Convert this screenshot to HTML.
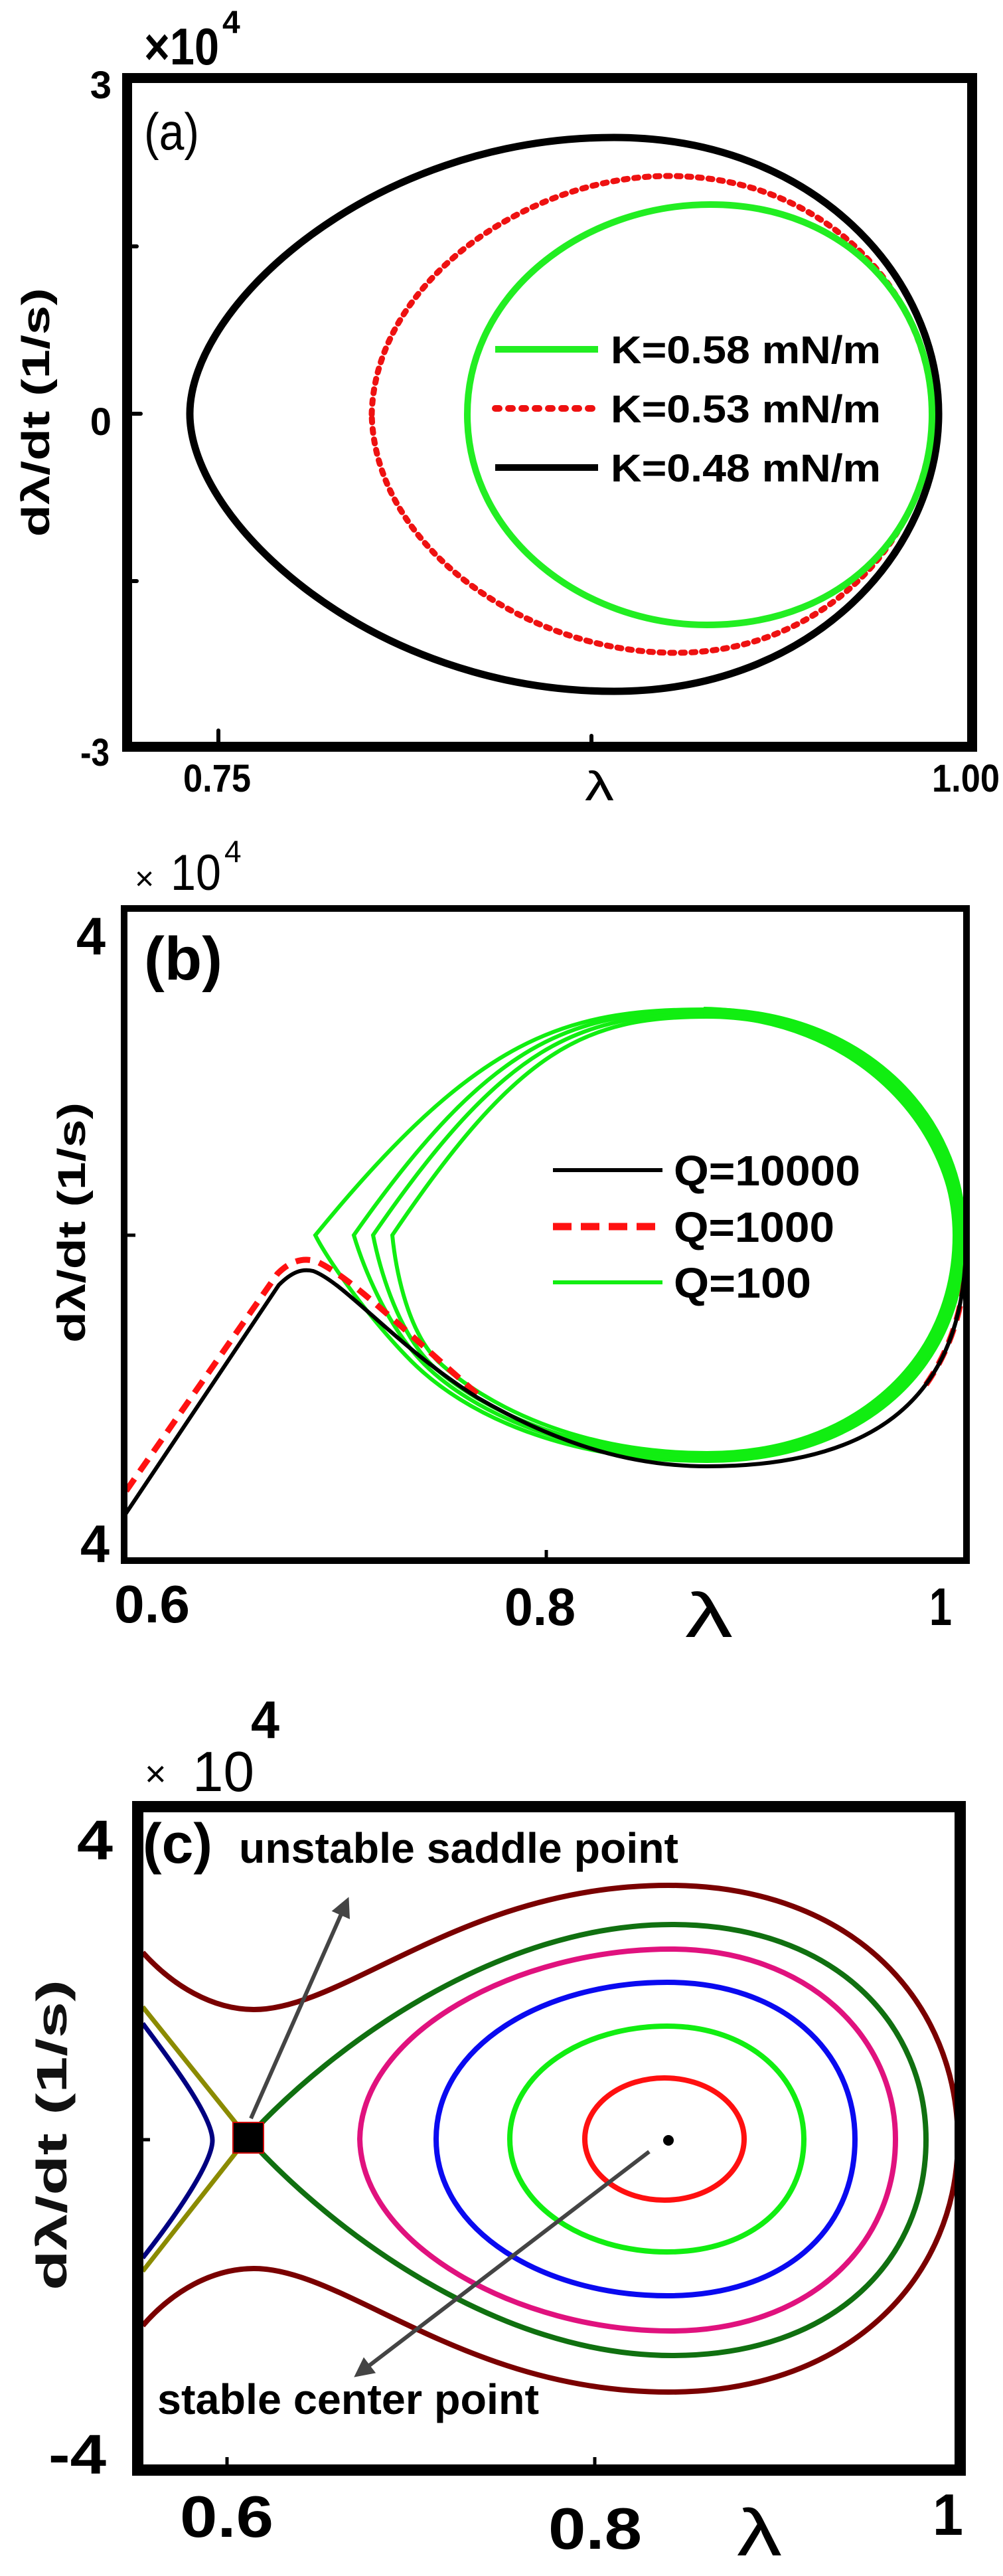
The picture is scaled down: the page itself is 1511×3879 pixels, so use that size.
<!DOCTYPE html>
<html><head><meta charset="utf-8"><style>html,body{margin:0;padding:0;background:#fff}svg{display:block}</style></head>
<body>
<svg width="1511" height="3879" viewBox="0 0 1511 3879" xmlns="http://www.w3.org/2000/svg" font-family="Liberation Sans, Arial, sans-serif">
<defs>
<clipPath id="ca"><rect x="199" y="125" width="1258" height="992"/></clipPath>
<clipPath id="cb"><rect x="192" y="1373" width="1259" height="972"/></clipPath>
<clipPath id="cc"><rect x="216" y="2729" width="1222" height="982"/></clipPath>
<marker id="ah" viewBox="0 0 10 10" refX="8" refY="5" markerWidth="5" markerHeight="5" orient="auto"><path d="M0,0 L10,5 L0,10 Z" fill="#444"/></marker>
</defs>
<rect width="1511" height="3879" fill="#fff"/>

<!-- Panel (a) -->
<g clip-path="url(#ca)" fill="none">
<path d="M286,623 C286,460 560,207 925,207 C1230,207 1414,420 1414,623 C1414,826 1230,1041 925,1041 C560,1041 286,786 286,623 Z" stroke="#000" stroke-width="11"/>
<path d="M560,624 C565,420 800,265 1007,265 C1250,265 1404,450 1404,624 C1404,800 1250,983 1017,983 C800,983 565,830 560,624 Z" stroke="#ee1111" stroke-width="9" stroke-dasharray="6 10" stroke-linecap="round"/>
<path d="M704,624 C704,440 880,308 1070,308 C1280,308 1404,460 1404,624 C1404,790 1280,941 1065,941 C880,941 704,810 704,624 Z" stroke="#22ee22" stroke-width="10"/>
<line x1="746" y1="526" x2="901" y2="526" stroke="#22ee22" stroke-width="10"/>
<line x1="746" y1="615" x2="901" y2="615" stroke="#ee1111" stroke-width="10" stroke-dasharray="6 14" stroke-linecap="round"/>
<line x1="746" y1="704" x2="901" y2="704" stroke="#000" stroke-width="10"/>
</g>
<rect x="191.5" y="117.5" width="1273" height="1007" fill="none" stroke="#000" stroke-width="15"/>
<g stroke="#000" stroke-width="6" stroke-linecap="round">
<line x1="329" y1="1100" x2="329" y2="1118"/><line x1="891" y1="1108" x2="891" y2="1118"/>
<line x1="200" y1="371" x2="206" y2="371"/><line x1="200" y1="623" x2="212" y2="623"/><line x1="200" y1="875" x2="206" y2="875"/>
</g>
<g font-weight="bold" fill="#000">
<text x="217" y="97" font-size="78" textLength="113" lengthAdjust="spacingAndGlyphs">×10</text>
<text x="335" y="50" font-size="48">4</text>
<text x="168" y="148" font-size="58" text-anchor="end">3</text>
<text x="168" y="655" font-size="58" text-anchor="end">0</text>
<text x="121" y="1153" font-size="58" textLength="44" lengthAdjust="spacingAndGlyphs">-3</text>
<text x="276" y="1192" font-size="58" textLength="102" lengthAdjust="spacingAndGlyphs">0.75</text>
<text x="1404" y="1192" font-size="58" textLength="102" lengthAdjust="spacingAndGlyphs">1.00</text>
<text x="920" y="547" font-size="58" textLength="407" lengthAdjust="spacingAndGlyphs">K=0.58 mN/m</text>
<text x="920" y="636" font-size="58" textLength="407" lengthAdjust="spacingAndGlyphs">K=0.53 mN/m</text>
<text x="920" y="725" font-size="58" textLength="407" lengthAdjust="spacingAndGlyphs">K=0.48 mN/m</text>
<text transform="translate(74,621) rotate(-90)" font-size="58" text-anchor="middle" textLength="375" lengthAdjust="spacingAndGlyphs">dλ/dt (1/s)</text>
</g>
<text x="217" y="225" font-size="78" textLength="83" lengthAdjust="spacingAndGlyphs">(a)</text>
<text x="881" y="1205" font-size="62" textLength="44" lengthAdjust="spacingAndGlyphs">λ</text>

<!-- Panel (b) -->
<g clip-path="url(#cb)" fill="none">
<g stroke="#11ee11" stroke-width="6">
<path d="M475,1860 C720,1560 850,1520 1065,1520 C1300,1520 1453,1680 1453,1860 C1453,2060 1300,2200 1065,2200 C850,2200 700,2130 620,2050 C560,1990 495,1900 475,1860 Z"/>
<path d="M533,1860 C740,1565 860,1523 1065,1523 C1298,1523 1448,1684 1448,1860 C1448,2056 1297,2196 1065,2196 C860,2196 710,2125 640,2055 C580,1995 545,1900 533,1860 Z"/>
<path d="M562,1860 C760,1572 870,1527 1065,1527 C1294,1527 1443,1688 1443,1860 C1443,2052 1293,2192 1065,2192 C865,2192 720,2120 650,2055 C595,2000 570,1900 562,1860 Z"/>
<path d="M591,1860 C780,1580 880,1531 1065,1531 C1290,1531 1438,1692 1438,1860 C1438,2048 1290,2188 1065,2188 C870,2188 730,2115 660,2050 C610,2000 595,1900 591,1860 Z"/>
<path d="M1060,1524 C1290,1528 1440,1690 1445,1860 C1443,2050 1290,2194 1065,2194" stroke-width="16"/>
</g>
<path d="M190,2245 L418,1918 C438,1898 458,1893 478,1900 C530,1925 600,1995 720,2100" stroke="#ff1111" stroke-width="9" stroke-dasharray="22 14"/>
<path d="M1395,2085 C1440,2020 1455,1950 1458,1866" stroke="#ff1111" stroke-width="9" stroke-dasharray="22 14"/>
<path d="M189,2280 L420,1935 C440,1915 455,1910 472,1914 C520,1932 600,2030 720,2105 C850,2180 960,2208 1065,2208 C1300,2208 1450,2120 1455,1880" stroke="#000" stroke-width="6"/>
</g>
<rect x="187" y="1368" width="1269" height="982" fill="none" stroke="#000" stroke-width="10"/>
<g stroke="#000" stroke-width="5"><line x1="192" y1="1860" x2="204" y2="1860"/><line x1="823" y1="2334" x2="823" y2="2345"/></g>
<line x1="833" y1="1762" x2="998" y2="1762" stroke="#000" stroke-width="6"/>
<line x1="833" y1="1847" x2="998" y2="1847" stroke="#ff1111" stroke-width="11" stroke-dasharray="28 14"/>
<line x1="833" y1="1931" x2="998" y2="1931" stroke="#11ee11" stroke-width="6"/>
<text x="203" y="1340" font-size="50">×</text>
<text x="257" y="1340" font-size="76" textLength="76" lengthAdjust="spacingAndGlyphs">10</text>
<text x="338" y="1298" font-size="46">4</text>
<text x="1032" y="2465" font-size="95" textLength="72" lengthAdjust="spacingAndGlyphs">λ</text>
<g font-weight="bold" fill="#000">
<text x="115" y="1437" font-size="80" textLength="44" lengthAdjust="spacingAndGlyphs">4</text>
<text x="121" y="2352" font-size="80" textLength="44" lengthAdjust="spacingAndGlyphs">4</text>
<text x="217" y="1475" font-size="92" textLength="118" lengthAdjust="spacingAndGlyphs">(b)</text>
<text x="172" y="2443" font-size="80" textLength="114" lengthAdjust="spacingAndGlyphs">0.6</text>
<text x="760" y="2447" font-size="80" textLength="107" lengthAdjust="spacingAndGlyphs">0.8</text>
<text x="1400" y="2447" font-size="80" textLength="34" lengthAdjust="spacingAndGlyphs">1</text>
<text x="1015" y="1785" font-size="64" textLength="281" lengthAdjust="spacingAndGlyphs">Q=10000</text>
<text x="1015" y="1870" font-size="64" textLength="242" lengthAdjust="spacingAndGlyphs">Q=1000</text>
<text x="1015" y="1954" font-size="64" textLength="207" lengthAdjust="spacingAndGlyphs">Q=100</text>
<text transform="translate(128,1841) rotate(-90)" font-size="58" text-anchor="middle" textLength="362" lengthAdjust="spacingAndGlyphs">dλ/dt (1/s)</text>
</g>

<!-- Panel (c) -->
<g clip-path="url(#cc)" fill="none" stroke-width="8">
<path d="M215,2940 C260,2990 320,3026 383,3026 C520,3026 700,2839 1007,2839 C1290,2839 1443,3020 1443,3223 C1443,3420 1290,3602 1007,3602 C700,3602 520,3416 383,3416 C320,3416 260,3450 215,3502" stroke="#7a0000"/>
<path d="M373,3219 C500,3080 750,2898 1012,2898 C1260,2898 1395,3050 1395,3222 C1395,3400 1260,3547 1012,3547 C750,3547 500,3360 373,3219 Z" stroke="#107010"/>
<path d="M542,3221 C545,3060 780,2935 1010,2935 C1220,2935 1349,3070 1349,3221 C1349,3380 1220,3510 1010,3510 C780,3510 545,3380 542,3221 Z" stroke="#e0127e"/>
<path d="M657,3221 C657,3080 820,2985 1005,2985 C1180,2985 1288,3090 1288,3221 C1288,3360 1180,3457 1005,3457 C820,3457 657,3360 657,3221 Z" stroke="#0a0af0"/>
<path d="M768,3221 C768,3120 880,3051 1005,3051 C1130,3051 1211,3130 1211,3221 C1211,3320 1130,3391 1005,3391 C880,3391 768,3320 768,3221 Z" stroke="#11ee11"/>
<ellipse cx="1001" cy="3221" rx="120" ry="92" stroke="#ff1010"/>
<path d="M215,3022 L373,3219 L215,3420" stroke="#8b8b00" stroke-width="7"/>
<path d="M215,3047 C270,3120 320,3190 320,3223 C320,3255 270,3330 215,3400" stroke="#000080" stroke-width="7"/>
</g>
<rect x="351" y="3196" width="46" height="46" fill="#000" stroke="#c00" stroke-width="2"/>
<circle cx="1007" cy="3223" r="8" fill="#000"/>
<line x1="378" y1="3190" x2="523" y2="2862" stroke="#444" stroke-width="6" marker-end="url(#ah)"/>
<line x1="978" y1="3240" x2="538" y2="3576" stroke="#444" stroke-width="6" marker-end="url(#ah)"/>
<rect x="207.5" y="2720.5" width="1239" height="999" fill="none" stroke="#000" stroke-width="17"/>
<g stroke="#000" stroke-width="5"><line x1="342" y1="3700" x2="342" y2="3711"/><line x1="896" y1="3700" x2="896" y2="3711"/><line x1="216" y1="3222" x2="226" y2="3222"/></g>
<text x="218" y="2690" font-size="56">×</text>
<text x="290" y="2697" font-size="85" textLength="93" lengthAdjust="spacingAndGlyphs">10</text>
<text x="1110" y="3848" font-size="100" textLength="68" lengthAdjust="spacingAndGlyphs">λ</text>
<g font-weight="bold" fill="#000">
<text x="378" y="2617" font-size="80" textLength="43" lengthAdjust="spacingAndGlyphs">4</text>
<text x="116" y="2800" font-size="84" textLength="54" lengthAdjust="spacingAndGlyphs">4</text>
<text x="73" y="3725" font-size="84" textLength="87" lengthAdjust="spacingAndGlyphs">-4</text>
<text x="215" y="2805" font-size="84" textLength="105" lengthAdjust="spacingAndGlyphs">(c)</text>
<text x="360" y="2805" font-size="64" textLength="662" lengthAdjust="spacingAndGlyphs">unstable saddle point</text>
<text x="237" y="3635" font-size="64" textLength="575" lengthAdjust="spacingAndGlyphs">stable center point</text>
<text x="271" y="3820" font-size="88" textLength="141" lengthAdjust="spacingAndGlyphs">0.6</text>
<text x="826" y="3838" font-size="88" textLength="141" lengthAdjust="spacingAndGlyphs">0.8</text>
<text x="1405" y="3817" font-size="88" textLength="46" lengthAdjust="spacingAndGlyphs">1</text>
<text transform="translate(100,3215) rotate(-90)" font-size="64" text-anchor="middle" textLength="468" lengthAdjust="spacingAndGlyphs" fill="#111">dλ/dt (1/s)</text>
</g>
</svg>
</body></html>
